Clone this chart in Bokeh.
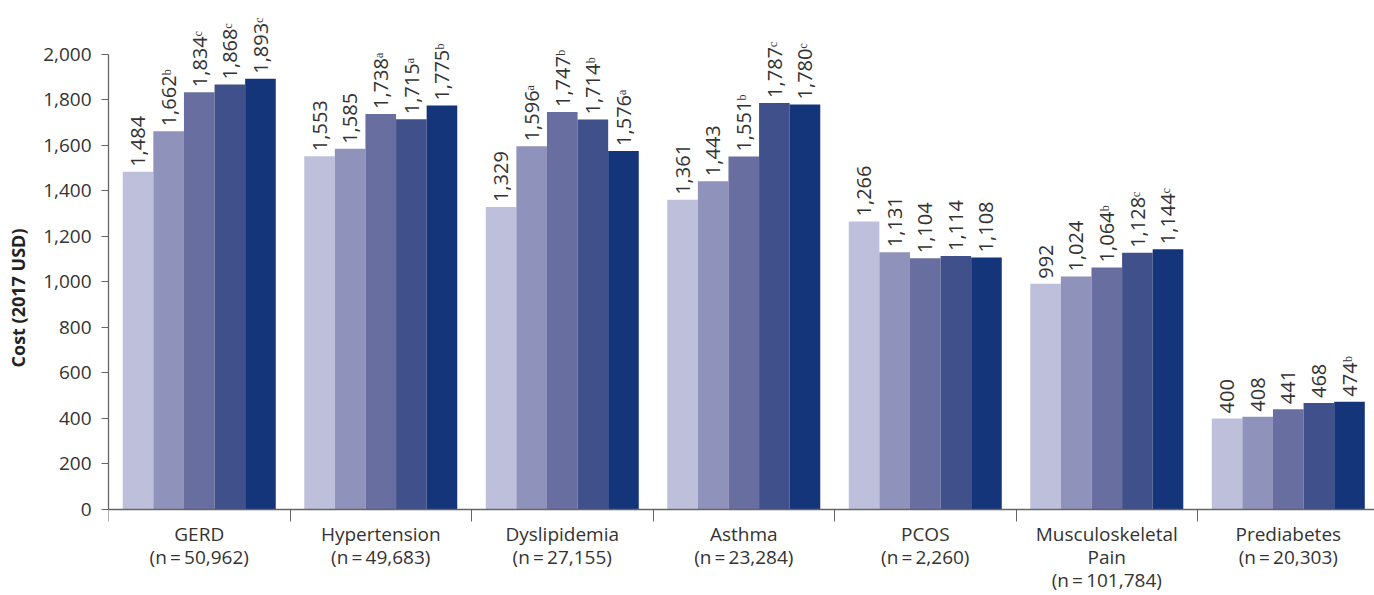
import math
from bokeh.plotting import figure
from bokeh.models import ColumnDataSource, FixedTicker, Range1d, NumeralTickFormatter
from bokeh.core.properties import value
from bokeh.embed import file_html
from bokeh.resources import INLINE

# ---------------- data ----------------
categories = ["GERD", "Hypertension", "Dyslipidemia", "Asthma", "PCOS",
              "Musculoskeletal Pain", "Prediabetes"]
category_n = ["50,962", "49,683", "27,155", "23,284", "2,260", "101,784", "20,303"]
category_lines = ["GERD", "Hypertension", "Dyslipidemia", "Asthma", "PCOS",
                  "Musculoskeletal\nPain", "Prediabetes"]

series_names = ["Period 1", "Period 2", "Period 3", "Period 4", "Period 5"]
s1 = [1484, 1553, 1329, 1361, 1266, 992, 400]
s2 = [1662, 1585, 1596, 1443, 1131, 1024, 408]
s3 = [1834, 1738, 1747, 1551, 1104, 1064, 441]
s4 = [1868, 1715, 1714, 1787, 1114, 1128, 468]
s5 = [1893, 1775, 1576, 1780, 1108, 1144, 474]
sup1 = ["", "", "", "", "", "", ""]
sup2 = ["b", "", "a", "", "", "", ""]
sup3 = ["c", "a", "b", "b", "", "b", ""]
sup4 = ["c", "a", "b", "c", "", "c", ""]
sup5 = ["c", "b", "a", "c", "", "c", "b"]

y_ticks = [0, 200, 400, 600, 800, 1000, 1200, 1400, 1600, 1800, 2000]

# ---------------- style ----------------
colors = ["#BEC0DB", "#8F92BA", "#686EA0", "#40508A", "#15357B"]
FONT = "Open Sans"
TXT = "#333333"
AX = "#666666"
bar_w = 0.1686
sup_map = {"a": "\u1d43", "b": "\u1d47", "c": "\u1d9c", "": ""}

# frame spans the full height; the category-label band lies below y = 0
p = figure(width=1374, height=595, output_backend="svg", toolbar_location=None,
           x_range=Range1d(0, 6.975), y_range=Range1d(-378, 2237),
           min_border_left=108, min_border_right=0, min_border_top=0,
           min_border_bottom=0)
p.outline_line_color = None
p.xgrid.visible = False
p.ygrid.visible = False

all_series = [s1, s2, s3, s4, s5]
all_sups = [sup1, sup2, sup3, sup4, sup5]
for j, (vals, sups) in enumerate(zip(all_series, all_sups)):
    xs = [i + 0.5 + (j - 2) * bar_w for i in range(len(categories))]
    labels = [f"{v:,}" + sup_map[s] for v, s in zip(vals, sups)]
    src = ColumnDataSource(dict(x=xs, top=vals, label=labels))
    p.vbar(x="x", top="top", bottom=0, width=bar_w, source=src,
           fill_color=colors[j], line_color=None)
    p.text(x="x", y="top", text="label", source=src, angle=math.pi / 2,
           text_align="left", text_baseline="middle", y_offset=-5,
           text_font=value(FONT), text_font_size="20px", text_color=TXT)

# y axis
ya = p.yaxis[0]
ya.bounds = (0, 2000)
ya.ticker = FixedTicker(ticks=y_ticks)
ya.formatter = NumeralTickFormatter(format="0,0")
ya.major_tick_out = 7
ya.major_tick_in = 0
ya.minor_tick_out = 0
ya.minor_tick_in = 0
ya.axis_line_color = AX
ya.major_tick_line_color = AX
ya.axis_line_width = 1.3
ya.major_label_text_font = FONT
ya.major_label_text_font_size = "19px"
ya.major_label_text_color = TXT
ya.major_label_standoff = 10
ya.axis_label = "Cost (2017 USD)"
ya.axis_label_text_font = FONT
ya.axis_label_text_font_style = "bold"
ya.axis_label_text_font_size = "18px"
ya.axis_label_text_color = "#222222"
ya.axis_label_standoff = 10

# x axis pinned at y = 0: ticks at category boundaries
xa = p.xaxis[0]
xa.fixed_location = 0
boundaries = list(range(len(categories) + 1))
xa.ticker = FixedTicker(ticks=boundaries, minor_ticks=[])
xa.major_label_overrides = {b: "" for b in boundaries}
xa.major_tick_out = 12
xa.major_tick_in = 0
xa.minor_tick_out = 0
xa.minor_tick_in = 0
xa.major_tick_line_color = AX
xa.axis_line_color = AX
xa.axis_line_width = 1.3
xa.major_label_text_font_size = "0px"
xa.major_label_standoff = 0

# category names centred under each group
centers = [i + 0.5 for i in range(len(categories))]
cat_text = [f"{name}\n(n\u2009=\u2009{n})" for name, n in zip(category_lines, category_n)]
cat_src = ColumnDataSource(dict(x=centers, y=[0] * len(centers), text=cat_text))
p.text(x="x", y="y", text="text", source=cat_src, y_offset=12,
       text_align="center", text_baseline="top",
       text_font=value(FONT), text_font_size="19px",
       text_line_height=0.88, text_color=TXT)

open("out.html", "w").write(file_html(p, INLINE))
